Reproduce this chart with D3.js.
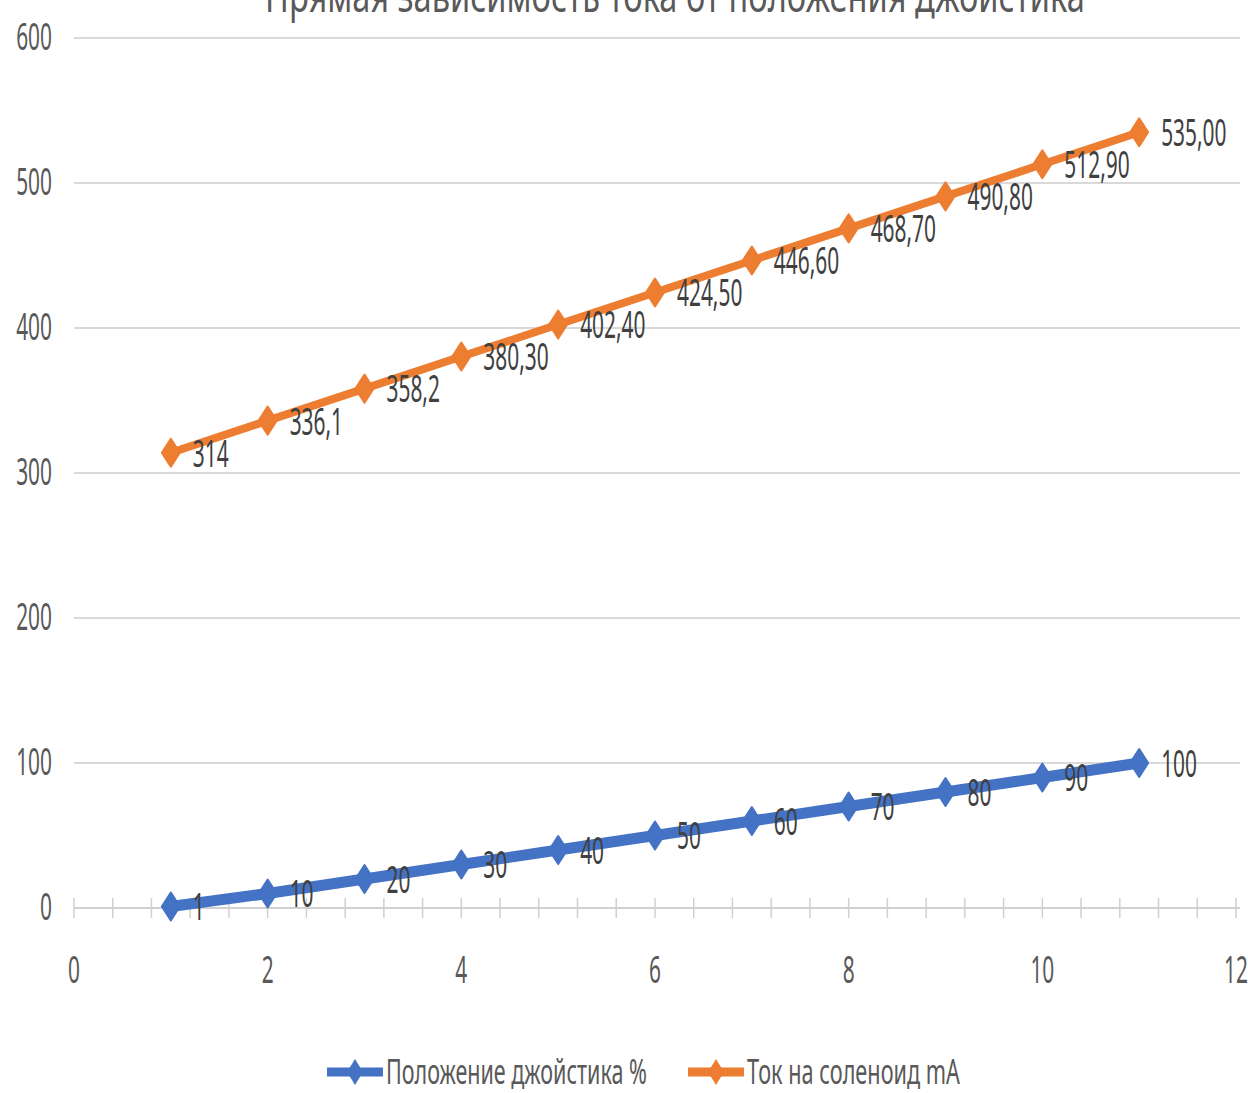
<!DOCTYPE html>
<html>
<head>
<meta charset="utf-8">
<script src="https://cdn.jsdelivr.net/npm/d3@7"></script>
<style>
  html, body { margin: 0; padding: 0; background: #ffffff; }
  svg { display: block; }
</style>
</head>
<body>
<script>
// Joystick position steps (x) and the two measured series
const steps = [1, 2, 3, 4, 5, 6, 7, 8, 9, 10, 11];
const joystickPct = [1, 10, 20, 30, 40, 50, 60, 70, 80, 90, 100];
const joystickLabels = ["1", "10", "20", "30", "40", "50", "60", "70", "80", "90", "100"];
const solenoidMA = [314, 336.1, 358.2, 380.3, 402.4, 424.5, 446.6, 468.7, 490.8, 512.9, 535.0];
const solenoidLabels = ["314", "336,1", "358,2", "380,30", "402,40", "424,50", "446,60", "468,70", "490,80", "512,90", "535,00"];
const xTicks = [0, 2, 4, 6, 8, 10, 12];
const yTicks = [0, 100, 200, 300, 400, 500, 600];
const seriesNames = ["Положение джойстика %", "Ток на соленоид mA"];
const titleText = "Прямая зависимость тока от положения джойстика";

const W = 1248, H = 1093;
const FONT = "'Noto Sans', 'Liberation Sans', sans-serif";
const SX = 0.55; // condensed text width
const blue = "#4472C4", orange = "#ED7D31";

const svg = d3.select("body").append("svg").attr("width", W).attr("height", H);

const x = d3.scaleLinear().domain([0, 12]).range([74, 1236]);
const y = d3.scaleLinear().domain([0, 600]).range([908, 38]);

// condensed text helper
function label(g, px, py, txt, opts) {
  const o = Object.assign({ size: 38, anchor: "start", fill: "#595959", baseline: "central", sx: SX }, opts || {});
  return g.append("text")
    .attr("transform", `translate(${px},${py}) scale(${o.sx},1)`)
    .attr("text-anchor", o.anchor)
    .attr("dominant-baseline", o.baseline)
    .attr("font-family", FONT)
    .attr("font-size", o.size)
    .attr("fill", o.fill)
    .text(txt);
}

// condensed text squeezed to a given drawn width
function fitLabel(g, px, py, txt, width, opts) {
  const t = label(g, px, py, txt, Object.assign({ sx: 1 }, opts));
  const natural = t.node().getComputedTextLength();
  t.attr("transform", `translate(${px},${py}) scale(${width / natural},1)`);
  return t;
}

// Gridlines
const grid = svg.append("g");
grid.selectAll("line").data(yTicks.filter(d => d > 0)).join("line")
  .attr("x1", x(0)).attr("x2", 1240)
  .attr("y1", d => y(d)).attr("y2", d => y(d))
  .attr("stroke", "#d9d9d9").attr("stroke-width", 2);

// X axis line with crossing tick marks (major 2, minor 0.4)
const axisG = svg.append("g");
axisG.append("line")
  .attr("x1", x(0)).attr("x2", 1240)
  .attr("y1", y(0)).attr("y2", y(0))
  .attr("stroke", "#d0d0d0").attr("stroke-width", 2);
const minor = d3.range(0, 31).map(i => i * 0.4);
axisG.selectAll("line.tick").data(minor).join("line")
  .attr("class", "tick")
  .attr("x1", d => x(d)).attr("x2", d => x(d))
  .attr("y1", y(0) - 10).attr("y2", y(0) + 10)
  .attr("stroke", "#d0d0d0").attr("stroke-width", 1.5);

// Axis labels
const yLab = svg.append("g");
yTicks.forEach(t => label(yLab, 52, y(t) - 3, String(t), { anchor: "end" }));
const xLab = svg.append("g");
xTicks.forEach(t => label(xLab, x(t), 968, String(t), { anchor: "middle" }));

// Title (runs into the top edge)
fitLabel(svg.append("g"), 265, 12, titleText, 820, { size: 46, baseline: "alphabetic" });

// Series
const diamond = (hw, hh) => `M0,${-hh}L${hw},0L0,${hh}L${-hw},0Z`;
const series = [
  { vals: joystickPct, labels: joystickLabels, color: blue, width: 11 },
  { vals: solenoidMA, labels: solenoidLabels, color: orange, width: 8 }
];
const line = d3.line().x(d => x(d[0])).y(d => y(d[1]));

series.forEach(s => {
  const pts = steps.map((st, i) => [st, s.vals[i]]);
  const g = svg.append("g");
  g.append("path").datum(pts)
    .attr("d", line)
    .attr("fill", "none")
    .attr("stroke", s.color)
    .attr("stroke-width", s.width)
    .attr("stroke-linejoin", "round");
  g.selectAll("path.mk").data(pts).join("path")
    .attr("class", "mk")
    .attr("transform", d => `translate(${x(d[0])},${y(d[1])})`)
    .attr("d", diamond(9, 14))
    .attr("fill", s.color)
    .attr("stroke", s.color)
    .attr("stroke-width", 2)
    .attr("stroke-linejoin", "round");
  pts.forEach((p, i) => label(g, x(p[0]) + 22, y(p[1]) - 1, s.labels[i], { fill: "#404040" }));
});

// Legend
const leg = svg.append("g");
const legendItems = [
  { name: seriesNames[0], color: blue, x0: 327, tx: 386, tl: 261 },
  { name: seriesNames[1], color: orange, x0: 688, tx: 747, tl: 213 }
];
legendItems.forEach(it => {
  const ly = 1072;
  leg.append("line")
    .attr("x1", it.x0).attr("x2", it.x0 + 56)
    .attr("y1", ly).attr("y2", ly)
    .attr("stroke", it.color).attr("stroke-width", 9);
  leg.append("path")
    .attr("transform", `translate(${it.x0 + 28},${ly})`)
    .attr("d", diamond(8, 13))
    .attr("fill", it.color);
  fitLabel(leg, it.tx, ly - 1, it.name, it.tl, { size: 34 });
});
</script>
</body>
</html>
